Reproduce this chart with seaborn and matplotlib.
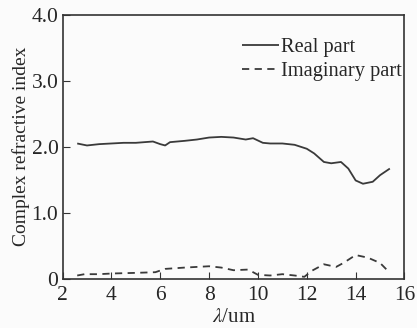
import pandas as pd
import seaborn as sns
import matplotlib.pyplot as plt

# values
real_wl = [2.6, 3.0, 3.5, 4.0, 4.5, 5.0, 5.7, 6.0, 6.2, 6.4, 7.0, 7.5, 8.0, 8.5, 9.0,
           9.5, 9.8, 10.2, 10.5, 11.0, 11.5, 12.0, 12.3, 12.7, 13.0, 13.4, 13.7, 14.0,
           14.3, 14.7, 15.0, 15.4]
real_n = [2.05, 2.02, 2.04, 2.05, 2.06, 2.06, 2.08, 2.04, 2.02, 2.07, 2.09, 2.11, 2.14,
          2.15, 2.14, 2.11, 2.13, 2.06, 2.05, 2.05, 2.03, 1.97, 1.90, 1.77, 1.75, 1.77,
          1.67, 1.49, 1.44, 1.47, 1.57, 1.67]

imag_wl = [2.6, 2.9, 3.5, 4.0, 5.0, 5.8, 6.2, 7.0, 8.0, 8.5, 9.0, 9.6, 10.0, 10.5, 11.0,
           11.5, 11.9, 12.2, 12.7, 13.2, 13.5, 14.0, 14.5, 15.0, 15.4]
imag_k = [0.05, 0.07, 0.07, 0.08, 0.09, 0.10, 0.15, 0.17, 0.19, 0.17, 0.13, 0.14, 0.06,
          0.05, 0.07, 0.05, 0.03, 0.12, 0.22, 0.18, 0.24, 0.36, 0.32, 0.24, 0.09]

series = ['Real part', 'Imaginary part']

df = pd.concat([
    pd.DataFrame({'wl': real_wl, 'val': real_n, 'part': series[0]}),
    pd.DataFrame({'wl': imag_wl, 'val': imag_k, 'part': series[1]}),
])

sns.set_style('ticks')
plt.rcParams['font.family'] = ['Liberation Serif', 'DejaVu Serif']
plt.rcParams['mathtext.fontset'] = 'stix'

fig, ax = plt.subplots(figsize=(4.17, 3.28), dpi=100)
fig.patch.set_facecolor('#fbfbfb')
ax.set_facecolor('#fbfbfb')

sns.lineplot(data=df, x='wl', y='val', hue='part', style='part',
             palette=['#3a3a3a', '#3a3a3a'], dashes=[(1, 0), (4, 3)],
             linewidth=1.3, ax=ax, sort=False)

ax.set_xlim(2, 16)
ax.set_ylim(0, 4.0)
ax.set_xticks(range(2, 17, 2))
ax.set_yticks([0, 1, 2, 3, 4])
ax.set_yticklabels(['0', '1.0', '2.0', '3.0', '4.0'])
ax.tick_params(direction='in', labelsize=15.5, length=5, color='#333333', pad=3)
ax.tick_params(axis='x', pad=5)
for s in ax.spines.values():
    s.set_color('#333333')
    s.set_linewidth(1.2)

ax.set_xlabel(r'$\lambda$/um', fontsize=15, labelpad=2)
ax.set_ylabel('Complex refractive index', fontsize=14, labelpad=1)

leg = ax.legend(title=None, frameon=False, fontsize=14.7, loc='upper right',
                bbox_to_anchor=(1.015, 0.945), handlelength=1.8, handletextpad=0.1,
                labelspacing=0.25, borderaxespad=0)

fig.subplots_adjust(left=0.15, right=0.97, bottom=0.15, top=0.955)
fig.savefig('out.png', dpi=100)
